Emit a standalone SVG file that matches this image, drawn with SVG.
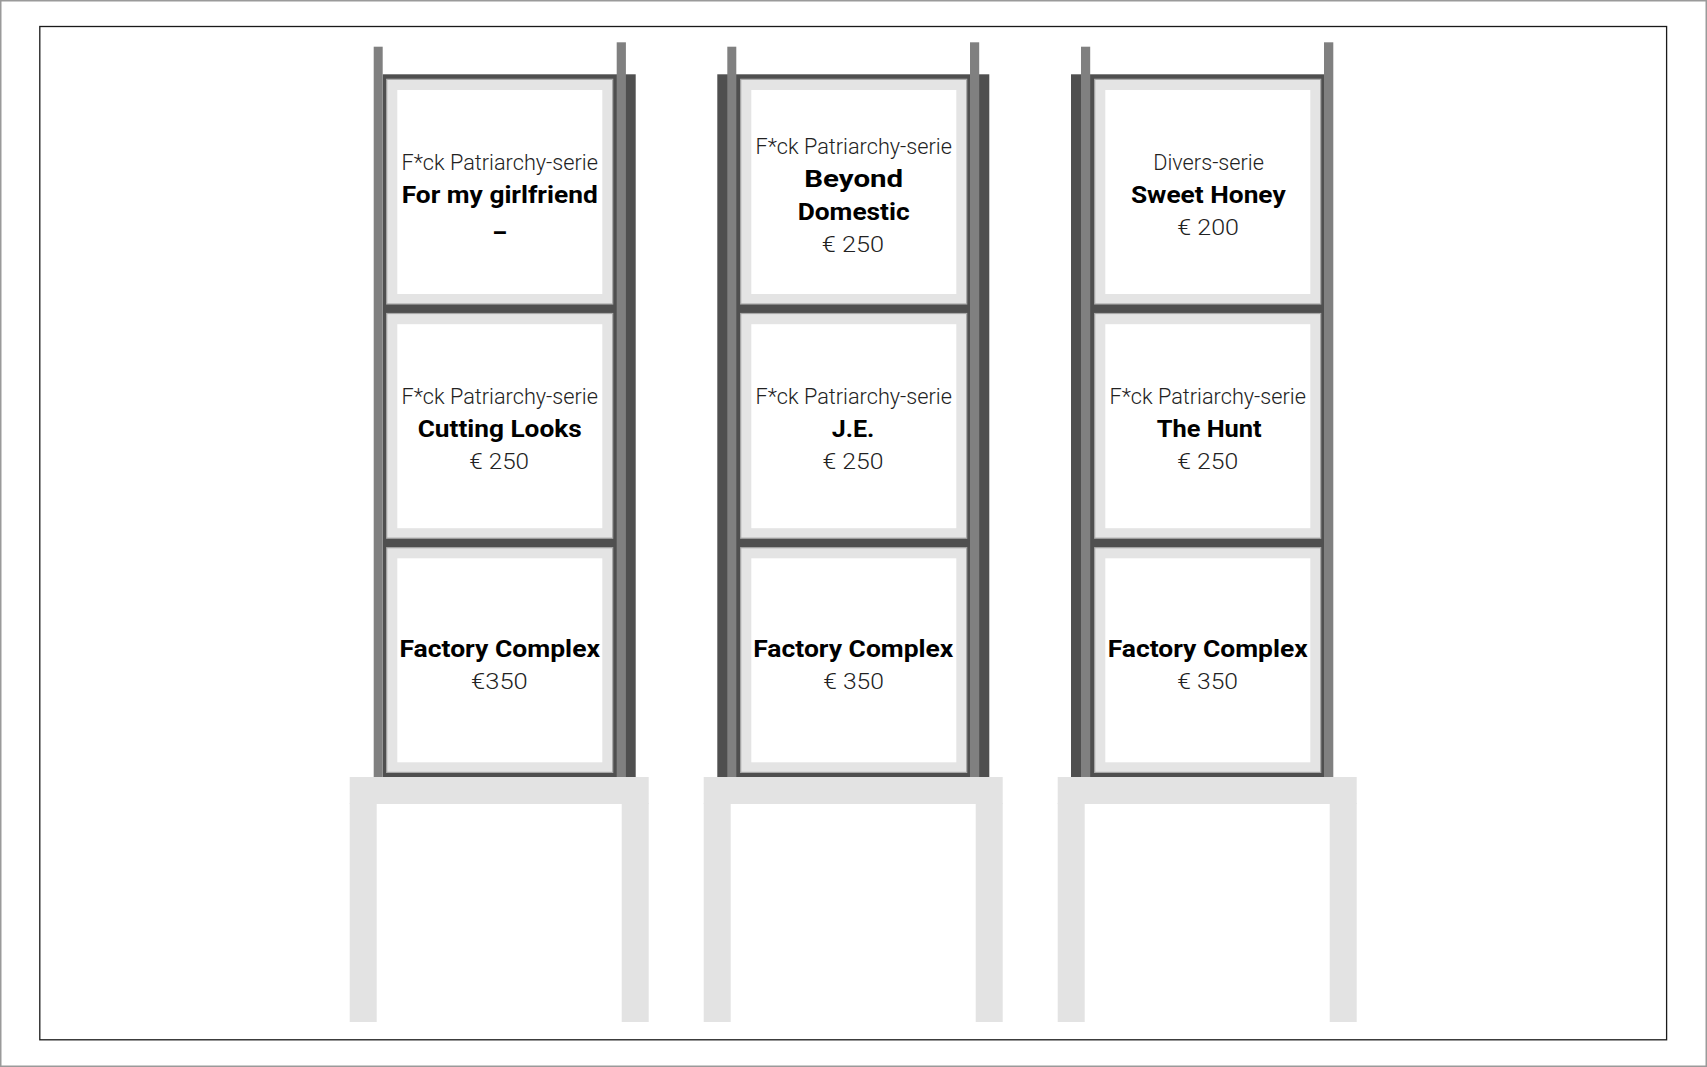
<svg xmlns="http://www.w3.org/2000/svg" width="1707" height="1067" viewBox="0 0 1707 1067">
<style>
.post{fill:#808080}
.dark{fill:#4f4f4f}
.panel{fill:#e4e4e4;stroke:#a8a8a8;stroke-width:1.2}
.inner{fill:#ffffff}
.table{fill:#e3e3e3}
.lt{font-family:Roboto,"Liberation Sans",sans-serif;font-weight:300;font-size:22.5px;fill:#222;text-anchor:middle}
.bd{font-family:Roboto,"Liberation Sans",sans-serif;font-weight:700;font-size:23.5px;fill:#000;text-anchor:middle}
</style>
<rect x="0.75" y="0.75" width="1705.5" height="1065.5" fill="#ffffff" stroke="#9a9a9a" stroke-width="1.5"/>
<rect x="39.8" y="26.5" width="1626.8" height="1013.3" fill="none" stroke="#1a1a1a" stroke-width="1.3"/>

<g id="stand1">
  <rect class="dark" x="382.7" y="74.3" width="253" height="703"/>
  <rect class="post" x="373.7" y="46.7" width="9" height="730.3"/>
  <rect class="post" x="616.7" y="42.3" width="9.2" height="734.7"/>
  <rect class="table" x="349.7" y="777" width="299" height="27"/>
  <rect class="table" x="349.7" y="803" width="27" height="219"/>
  <rect class="table" x="621.7" y="803" width="27" height="219"/>
</g>
<g id="stand2">
  <rect class="dark" x="717.3" y="74.3" width="272" height="703"/>
  <rect class="post" x="727.3" y="46.7" width="9" height="730.3"/>
  <rect class="post" x="970" y="42.3" width="9.2" height="734.7"/>
  <rect class="table" x="703.7" y="777" width="299" height="27"/>
  <rect class="table" x="703.7" y="803" width="27" height="219"/>
  <rect class="table" x="975.7" y="803" width="27" height="219"/>
</g>
<g id="stand3">
  <rect class="dark" x="1071" y="74.3" width="253" height="703"/>
  <rect class="post" x="1081" y="46.7" width="9.2" height="730.3"/>
  <rect class="post" x="1324" y="42.3" width="9.3" height="734.7"/>
  <rect class="table" x="1057.7" y="777" width="299" height="27"/>
  <rect class="table" x="1057.7" y="803" width="27" height="219"/>
  <rect class="table" x="1329.7" y="803" width="27" height="219"/>
</g>

<g id="c1r1">
  <rect class="panel" x="386.7" y="79.3" width="226" height="224.7"/>
  <rect class="inner" x="397.3" y="90" width="205" height="204"/>
  <text class="lt" x="499.7" y="170" textLength="196.5" lengthAdjust="spacingAndGlyphs">F*ck Patriarchy-serie</text>
  <text class="bd" x="499.7" y="203.3" textLength="196" lengthAdjust="spacingAndGlyphs">For my girlfriend</text>
  <text class="bd" x="499.7" y="240.5">–</text>
</g>
<g id="c1r2">
  <rect class="panel" x="386.7" y="313.5" width="226" height="224.7"/>
  <rect class="inner" x="397.3" y="324.2" width="205" height="204"/>
  <text class="lt" x="499.7" y="404.3" textLength="196.5" lengthAdjust="spacingAndGlyphs">F*ck Patriarchy-serie</text>
  <text class="bd" x="499.7" y="436.5" textLength="164" lengthAdjust="spacingAndGlyphs">Cutting Looks</text>
  <text class="lt" x="499.2" y="469.3" textLength="59.7" lengthAdjust="spacingAndGlyphs">€ 250</text>
</g>
<g id="c1r3">
  <rect class="panel" x="386.7" y="547.7" width="226" height="224.7"/>
  <rect class="inner" x="397.3" y="558.3" width="205" height="204"/>
  <text class="bd" x="499.7" y="657.3" textLength="200.5" lengthAdjust="spacingAndGlyphs">Factory Complex</text>
  <text class="lt" x="499.4" y="689.3" textLength="56.7" lengthAdjust="spacingAndGlyphs">€350</text>
</g>

<g id="c2r1">
  <rect class="panel" x="740.7" y="79.3" width="226" height="224.7"/>
  <rect class="inner" x="751.3" y="90" width="205" height="204"/>
  <text class="lt" x="853.7" y="154.3" textLength="196.5" lengthAdjust="spacingAndGlyphs">F*ck Patriarchy-serie</text>
  <text class="bd" x="853.7" y="187.3" textLength="99" lengthAdjust="spacingAndGlyphs">Beyond</text>
  <text class="bd" x="853.7" y="219.5" textLength="112" lengthAdjust="spacingAndGlyphs">Domestic</text>
  <text class="lt" x="852.9" y="251.7" textLength="62.3" lengthAdjust="spacingAndGlyphs">€ 250</text>
</g>
<g id="c2r2">
  <rect class="panel" x="740.7" y="313.5" width="226" height="224.7"/>
  <rect class="inner" x="751.3" y="324.2" width="205" height="204"/>
  <text class="lt" x="853.7" y="404.3" textLength="196.5" lengthAdjust="spacingAndGlyphs">F*ck Patriarchy-serie</text>
  <text class="bd" x="853.0" y="436.5" textLength="42.6" lengthAdjust="spacingAndGlyphs">J.E.</text>
  <text class="lt" x="852.9" y="469.3" textLength="61" lengthAdjust="spacingAndGlyphs">€ 250</text>
</g>
<g id="c2r3">
  <rect class="panel" x="740.7" y="547.7" width="226" height="224.7"/>
  <rect class="inner" x="751.3" y="558.3" width="205" height="204"/>
  <text class="bd" x="853.3" y="657.3" textLength="200" lengthAdjust="spacingAndGlyphs">Factory Complex</text>
  <text class="lt" x="853.6" y="689.3" textLength="60.7" lengthAdjust="spacingAndGlyphs">€ 350</text>
</g>

<g id="c3r1">
  <rect class="panel" x="1094.7" y="79.3" width="226" height="224.7"/>
  <rect class="inner" x="1105.3" y="90" width="205" height="204"/>
  <text class="lt" x="1208.6" y="170" textLength="110.7" lengthAdjust="spacingAndGlyphs">Divers-serie</text>
  <text class="bd" x="1208.3" y="203.3" textLength="154.7" lengthAdjust="spacingAndGlyphs">Sweet Honey</text>
  <text class="lt" x="1208.1" y="235.3" textLength="61.7" lengthAdjust="spacingAndGlyphs">€ 200</text>
</g>
<g id="c3r2">
  <rect class="panel" x="1094.7" y="313.5" width="226" height="224.7"/>
  <rect class="inner" x="1105.3" y="324.2" width="205" height="204"/>
  <text class="lt" x="1207.7" y="404.3" textLength="196.5" lengthAdjust="spacingAndGlyphs">F*ck Patriarchy-serie</text>
  <text class="bd" x="1209.2" y="436.5" textLength="105" lengthAdjust="spacingAndGlyphs">The Hunt</text>
  <text class="lt" x="1207.7" y="469.3" textLength="61" lengthAdjust="spacingAndGlyphs">€ 250</text>
</g>
<g id="c3r3">
  <rect class="panel" x="1094.7" y="547.7" width="226" height="224.7"/>
  <rect class="inner" x="1105.3" y="558.3" width="205" height="204"/>
  <text class="bd" x="1207.7" y="657.3" textLength="200" lengthAdjust="spacingAndGlyphs">Factory Complex</text>
  <text class="lt" x="1207.7" y="689.3" textLength="60.7" lengthAdjust="spacingAndGlyphs">€ 350</text>
</g>
<g id="connectors"/>
</svg>
